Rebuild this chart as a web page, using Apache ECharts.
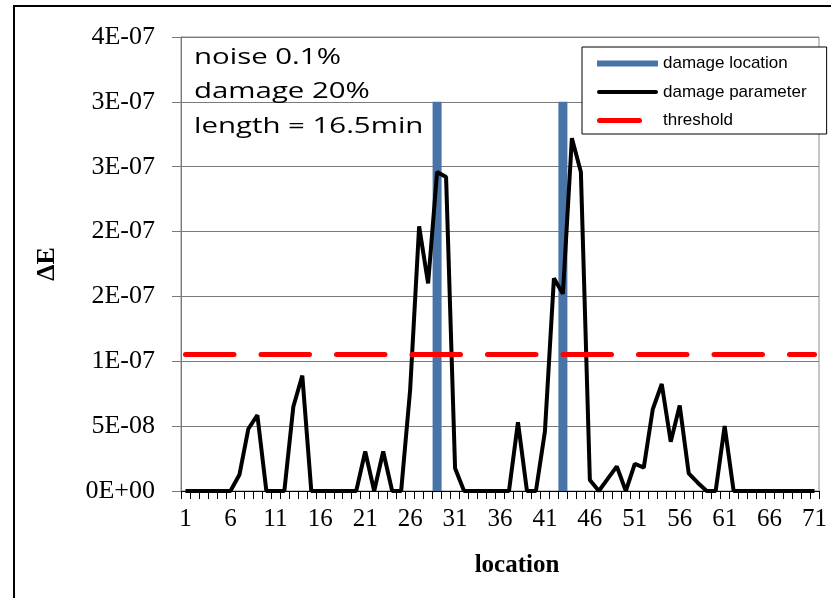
<!DOCTYPE html>
<html>
<head>
<meta charset="utf-8">
<script src="https://cdn.jsdelivr.net/npm/echarts@6/dist/echarts.min.js"></script>
<style>
  html, body { margin: 0; padding: 0; background: #fff; }
  #chart { width: 831px; height: 598px; }
</style>
</head>
<body>
<div id="chart"></div>
<script>
// ---- data ----
const locations = [
  '1','2','3','4','5','6','7','8','9','10',
  '11','12','13','14','15','16','17','18','19','20',
  '21','22','23','24','25','26','27','28','29','30',
  '31','32','33','34','35','36','37','38','39','40',
  '41','42','43','44','45','46','47','48','49','50',
  '51','52','53','54','55','56','57','58','59','60',
  '61','62','63','64','65','66','67','68','69','70',
  '71'
];
const damageParameter = [
  0, 0, 0, 0, 0, 0, 1.25e-8, 4.8e-8, 5.85e-8, 0,
  0, 0, 6.5e-8, 8.9e-8, 0, 0, 0, 0, 0, 0,
  3.05e-8, 0, 3.05e-8, 0, 0, 7.8e-8, 2.04e-7, 1.6e-7, 2.46e-7, 2.42e-7,
  1.75e-8, 0, 0, 0, 0, 0, 0, 5.3e-8, 0, 0,
  4.6e-8, 1.64e-7, 1.52e-7, 2.72e-7, 2.46e-7, 8.5e-9, 0, 9.5e-9, 1.9e-8, 0,
  2.1e-8, 1.8e-8, 6.3e-8, 8.25e-8, 3.8e-8, 6.6e-8, 1.36e-8, 6.4e-9, 0, 0,
  5.0e-8, 0, 0, 0, 0, 0, 0, 0, 0, 0,
  0
];
const damageLocations = ['29', '43'];
const damageLocationHeight = 3.0e-7;
const thresholdValue = 1.053e-7;
const yTickLabels = ['0E+00','5E-08','1E-07','2E-07','2E-07','3E-07','3E-07','4E-07'];
const yInterval = 5e-8;
const yMax = 3.5e-7;
const noteLines = ['noise 0.1%', 'damage 20%', 'length = 16.5min'];

// ---- derived series data ----
const damageLocationData = locations.map(c => damageLocations.includes(c) ? damageLocationHeight : null);
const thresholdData = [[locations[0], thresholdValue], [locations[locations.length - 1], thresholdValue]];

const chart = echarts.init(document.getElementById('chart'), null, { renderer: 'canvas' });

const noteGraphics = noteLines.map((t, i) => ({
  type: 'text',
  x: 194,
  y: 58 + i * 34.5,
  scaleX: 1.4,
  z: 10,
  style: {
    text: t,
    fontFamily: 'Open Sans',
    fontSize: 21,
    fill: '#000',
    textAlign: 'left',
    textVerticalAlign: 'middle'
  }
}));

chart.setOption({
  animation: false,
  backgroundColor: '#fff',
  grid: {
    left: 181, right: 12, top: 37, bottom: 107,
    show: true, borderColor: '#8c8c8c', borderWidth: 1, backgroundColor: 'transparent'
  },
  legend: {
    orient: 'vertical',
    left: 582, top: 47,
    padding: [8, 20, 5, 15],
    itemGap: 11.5,
    itemWidth: 61,
    itemHeight: 6,
    backgroundColor: '#fff',
    borderColor: '#000',
    borderWidth: 1,
    textStyle: { fontFamily: 'Liberation Sans', fontSize: 17, color: '#000' },
    data: [
      { name: 'damage location', icon: 'rect' },
      { name: 'damage parameter', icon: 'path://M2,0h57a2,2 0 0 1 0,4h-57a2,2 0 0 1 0,-4z' },
      { name: 'threshold', icon: 'path://M2.5,0h40a2.5,2.5 0 0 1 0,5h-40a2.5,2.5 0 0 1 0,-5z M61,2.5h0' }
    ]
  },
  xAxis: {
    type: 'category',
    data: locations,
    boundaryGap: true,
    name: 'location',
    nameLocation: 'middle',
    nameGap: 62,
    nameTextStyle: { fontFamily: 'Liberation Serif', fontWeight: 'bold', fontSize: 25, color: '#000', padding: [0, 0, 0, 34] },
    axisLine: { show: true, lineStyle: { color: '#000', width: 1 } },
    axisTick: { show: true, interval: 0, length: 8, lineStyle: { color: '#000' } },
    axisLabel: { interval: 4, margin: 16, fontFamily: 'Liberation Serif', fontSize: 25, color: '#000' },
    splitLine: { show: false }
  },
  yAxis: {
    type: 'value',
    min: 0, max: yMax, interval: yInterval,
    name: 'ΔE',
    nameLocation: 'middle',
    nameRotate: 90,
    nameGap: 121,
    nameTextStyle: { fontFamily: 'Liberation Serif', fontWeight: 'bold', fontSize: 26, color: '#000' },
    axisLine: { show: true, lineStyle: { color: '#7a7a7a', width: 1 } },
    axisTick: { show: true, length: 9, lineStyle: { color: '#7a7a7a' } },
    axisLabel: {
      margin: 26,
      fontFamily: 'Liberation Serif', fontSize: 26, color: '#000',
      formatter: v => yTickLabels[Math.round(v / yInterval)]
    },
    splitLine: { show: true, lineStyle: { color: '#7a7a7a', width: 1 } }
  },
  series: [
    {
      name: 'damage location',
      type: 'bar',
      data: damageLocationData,
      barWidth: 9,
      itemStyle: { color: '#4874A8' },
      z: 2
    },
    {
      name: 'damage parameter',
      type: 'line',
      data: damageParameter,
      symbol: 'none',
      lineStyle: { color: '#000', width: 4 },
      itemStyle: { color: '#000' },
      z: 3
    },
    {
      name: 'threshold',
      type: 'line',
      data: thresholdData,
      symbol: 'none',
      lineStyle: { color: '#ff0000', width: 5, type: [48.5, 27], cap: 'round' },
      itemStyle: { color: '#ff0000' },
      z: 4
    }
  ],
  graphic: [
    {
      type: 'rect',
      shape: { x: 14, y: 6, width: 900, height: 700 },
      style: { fill: 'none', stroke: '#000', lineWidth: 2 },
      z: -1,
      silent: true
    }
  ].concat(noteGraphics)
});
</script>
</body>
</html>
